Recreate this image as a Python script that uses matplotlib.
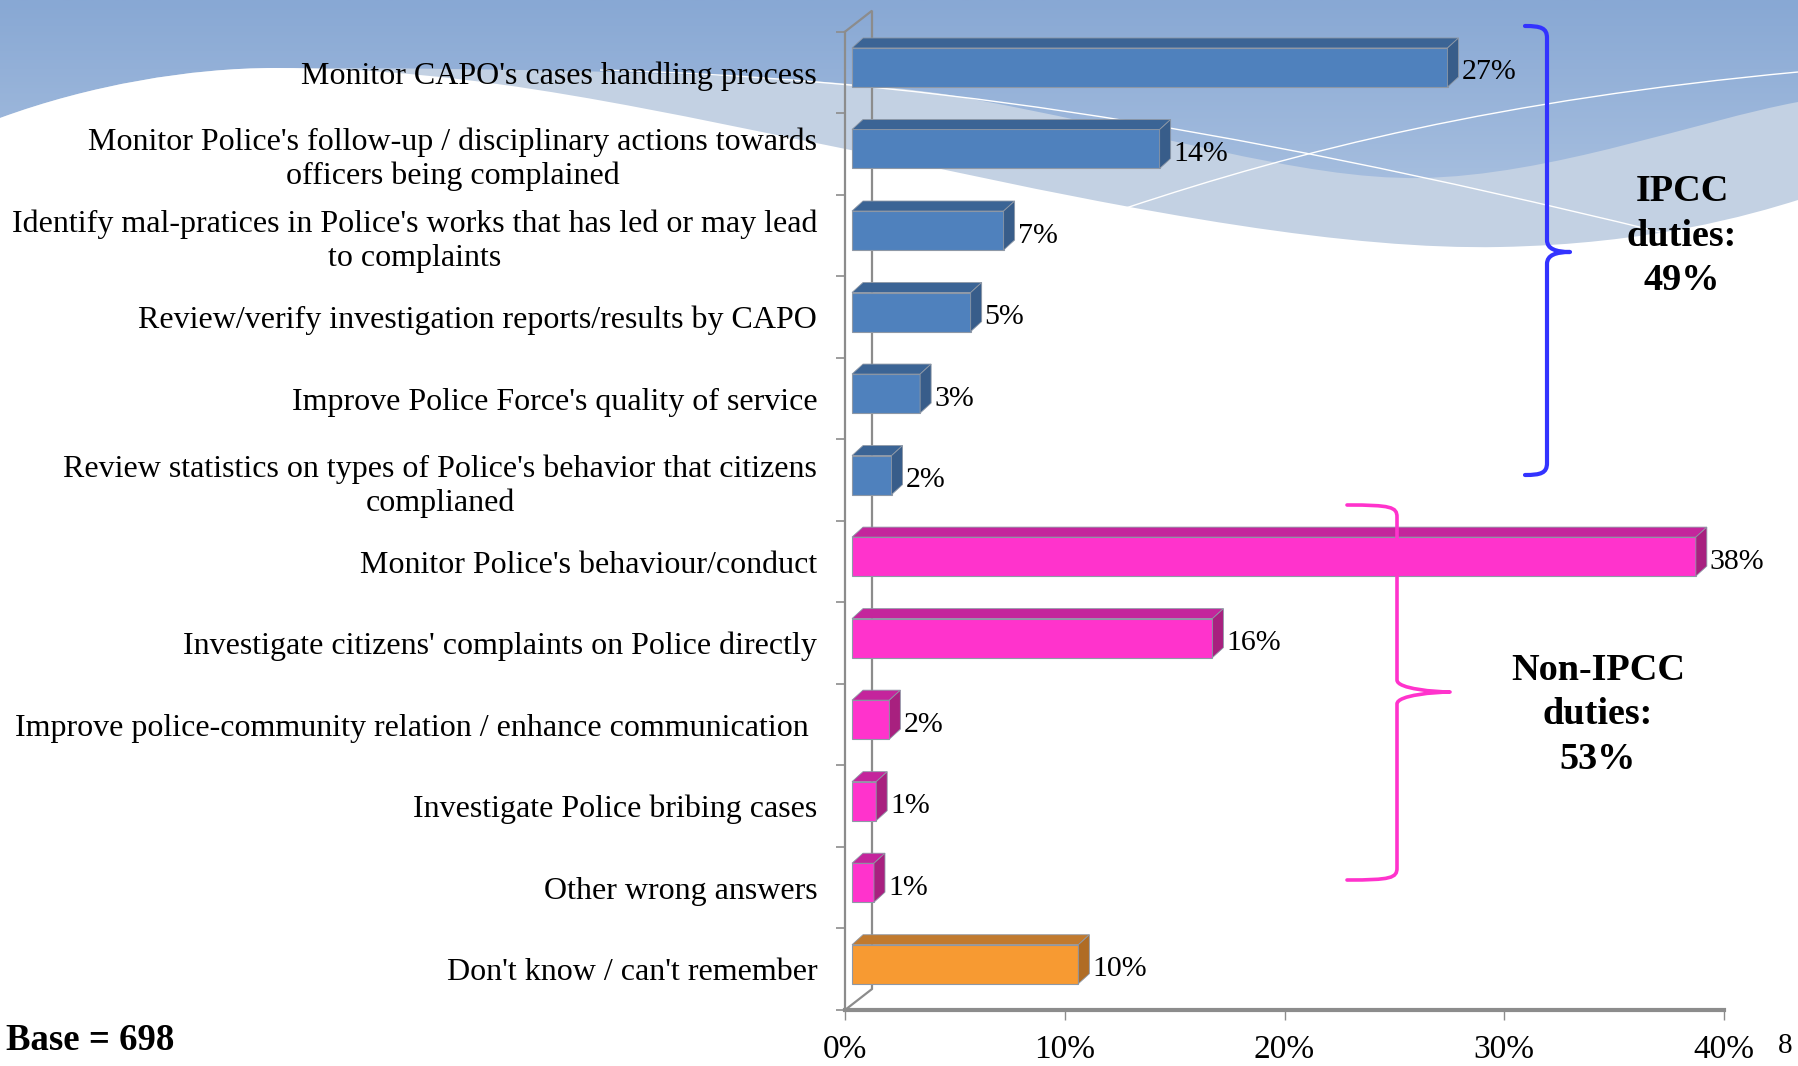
import matplotlib
matplotlib.use("Agg")
import matplotlib.pyplot as plt
import matplotlib.transforms as mtransforms
from matplotlib.patches import Polygon, PathPatch
from matplotlib.path import Path
import numpy as np

# chart data
categories = [
    "Monitor CAPO's cases handling process",
    "Monitor Police's follow-up / disciplinary actions towards\nofficers being complained",
    "Identify mal-pratices in Police's works that has led or may lead\nto complaints",
    "Review/verify investigation reports/results by CAPO",
    "Improve Police Force's quality of service",
    "Review statistics on types of Police's behavior that citizens\ncomplianed",
    "Monitor Police's behaviour/conduct",
    "Investigate citizens' complaints on Police directly",
    "Improve police-community relation / enhance communication ",
    "Investigate Police bribing cases",
    "Other wrong answers",
    "Don't know / can't remember",
]
values = [27.1, 14.0, 6.9, 5.4, 3.1, 1.8, 38.4, 16.4, 1.7, 1.1, 1.0, 10.3]
value_labels = ["27%", "14%", "7%", "5%", "3%", "2%", "38%", "16%", "2%", "1%", "1%", "10%"]
groups = ["ipcc"] * 6 + ["non"] * 5 + ["dk"]
x_ticks = [0, 10, 20, 30, 40]
x_tick_labels = ["0%", "10%", "20%", "30%", "40%"]

# front / top / side shades for each group
face_cols = {"ipcc": "#4F81BD", "non": "#FF33CC", "dk": "#F79A32"}
top_cols = {"ipcc": "#3B6495", "non": "#C4259C", "dk": "#C17A2E"}
side_cols = {"ipcc": "#385D8A", "non": "#A8207F", "dk": "#B06C24"}

W, H, DPI = 1798, 1066, 100
plt.rcParams["font.family"] = ["Liberation Serif", "DejaVu Serif"]
fig = plt.figure(figsize=(W / DPI, H / DPI), dpi=DPI)

# ---- slide background (pixel coords) ----
bg = fig.add_axes([0, 0, 1, 1], zorder=-10)
bg.set_xlim(0, W)
bg.set_ylim(H, 0)
bg.axis("off")

top_c = np.array(matplotlib.colors.to_rgb("#88A8D4"))
bot_c = np.array(matplotlib.colors.to_rgb("#B2C7E3"))
t = np.clip(np.linspace(0, H, 400) / 260.0, 0, 1)[:, None]
grad = top_c + (bot_c - top_c) * t
bg.imshow(np.repeat(grad[:, None, :], 2, axis=1), extent=(0, W, H, 0), aspect="auto", zorder=0)

band = Path(
    [(0, 118), (90, 85), (190, 68), (275, 68), (500, 68), (800, 72), (950, 95),
     (1150, 130), (1300, 180), (1420, 178), (1550, 176), (1700, 120), (1798, 102),
     (1798, H), (0, H), (0, 118)],
    [Path.MOVETO] + [Path.CURVE4] * 12 + [Path.LINETO] * 3,
)
bg.add_patch(PathPatch(band, facecolor="#C3D1E3", edgecolor="none", zorder=1))
white = Path(
    [(0, 118), (90, 85), (190, 68), (275, 68), (480, 68), (650, 110), (900, 160),
     (1150, 215), (1350, 250), (1500, 247), (1650, 244), (1750, 215), (1798, 200),
     (1798, H), (0, H), (0, 118)],
    [Path.MOVETO] + [Path.CURVE4] * 12 + [Path.LINETO] * 3,
)
bg.add_patch(PathPatch(white, facecolor="white", edgecolor="none", zorder=2))
line1 = Path([(600, 70), (900, 78), (1200, 120), (1660, 232)],
             [Path.MOVETO, Path.CURVE4, Path.CURVE4, Path.CURVE4])
line2 = Path([(1126, 208), (1300, 150), (1500, 100), (1798, 72)],
             [Path.MOVETO, Path.CURVE4, Path.CURVE4, Path.CURVE4])
for p in (line1, line2):
    bg.add_patch(PathPatch(p, facecolor="none", edgecolor="white", lw=1.0, zorder=3))

# 3-D frame: back wall and floor edges
axis_grey = "#8C8C8C"
x0, y_top, y_bot, wall_dx, wall_dy = 845, 31.7, 1010, 27, 21
bg.plot([x0, x0 + wall_dx, x0 + wall_dx, x0], [y_top, y_top - wall_dy, y_bot - wall_dy, y_bot],
        color=axis_grey, lw=1.6, zorder=4, solid_joinstyle="miter")

# ---- main chart ----
ax = fig.add_axes([x0 / W, (H - y_bot) / H, 879 / W, (y_bot - y_top) / H])
ax.patch.set_alpha(0)
ax.set_xlim(0, 40)
ax.set_ylim(11.5, -0.5)

px_x = 879 / 40.0
px_y = (y_bot - y_top) / 12.0
bar_h = 39 / px_y
dx, dy = 11 / px_x, -10 / px_y
front = mtransforms.offset_copy(ax.transData, fig=fig, x=7, y=5, units="dots")

ypos = np.arange(len(categories))
ax.barh(ypos, values, height=bar_h, color=[face_cols[g] for g in groups],
        edgecolor="#8E98A6", linewidth=0.8, transform=front, zorder=3)
for i, (v, g) in enumerate(zip(values, groups)):
    yt, yb = i - bar_h / 2, i + bar_h / 2
    ax.add_patch(Polygon([(0, yt), (v, yt), (v + dx, yt + dy), (dx, yt + dy)],
                         closed=True, facecolor=top_cols[g], edgecolor="#8E98A6",
                         lw=0.6, transform=front, zorder=3))
    ax.add_patch(Polygon([(v, yt), (v, yb), (v + dx, yb + dy), (v + dx, yt + dy)],
                         closed=True, facecolor=side_cols[g], edgecolor="#8E98A6",
                         lw=0.6, transform=front, zorder=3))

lab_tr = mtransforms.offset_copy(ax.transData, fig=fig, x=7 + 11 + 3, y=0, units="dots")
for i, (v, s) in enumerate(zip(values, value_labels)):
    ax.text(v, i, s, transform=lab_tr, ha="left", va="center", fontsize=21.5)

for side in ("top", "right"):
    ax.spines[side].set_visible(False)
ax.spines["left"].set_color(axis_grey)
ax.spines["left"].set_linewidth(1.6)
ax.spines["bottom"].set_color(axis_grey)
ax.spines["bottom"].set_linewidth(3.0)

ax.set_yticks(ypos)
ax.set_yticklabels(categories, fontsize=23)
for tl in ax.get_yticklabels():
    tl.set_multialignment("center")
ax.tick_params(axis="y", which="major", length=0, pad=20)
ax.set_yticks(np.arange(-0.5, 12, 1), minor=True)
ax.tick_params(axis="y", which="minor", length=6.5, width=1.2, color=axis_grey)

ax.set_xticks(x_ticks)
ax.set_xticklabels(x_tick_labels, fontsize=24)
ax.tick_params(axis="x", length=7, width=1.0, color=axis_grey, pad=11)

# ---- overlay: braces and notes ----
ov = fig.add_axes([0, 0, 1, 1], zorder=10)
ov.set_xlim(0, W)
ov.set_ylim(H, 0)
ov.axis("off")
ov.patch.set_alpha(0)

def brace(xe, xv, xt, yt, ym, yb, color, lw):
    verts = [(xe, yt), (xv - 6, yt), (xv, yt + 2), (xv, yt + 12),
             (xv, ym - 12),
             (xv, ym - 3), (xt - 14, ym), (xt, ym),
             (xt - 14, ym), (xv, ym + 3), (xv, ym + 12),
             (xv, yb - 12),
             (xv, yb - 2), (xv - 6, yb), (xe, yb)]
    codes = ([Path.MOVETO] + [Path.CURVE4] * 3 + [Path.LINETO] + [Path.CURVE4] * 6
             + [Path.LINETO] + [Path.CURVE4] * 3)
    ov.add_patch(PathPatch(Path(verts, codes), facecolor="none", edgecolor=color,
                           lw=lw, capstyle="round", joinstyle="round"))

brace(1525, 1547, 1570, 26, 252, 475, "#3333FF", 3.0)
brace(1347, 1397, 1450, 505, 692, 880, "#FF33CC", 2.6)

ov.text(1682, 236, "IPCC\nduties:\n49%", ha="center", va="center", fontsize=27.5,
        fontweight="bold", linespacing=1.35)
ov.text(1598, 715, "Non-IPCC\nduties:\n53%", ha="center", va="center", fontsize=27.5,
        fontweight="bold", linespacing=1.35)
ov.text(6, 1040, "Base = 698", ha="left", va="center", fontsize=26.5, fontweight="bold")
ov.text(1785, 1046, "8", ha="center", va="center", fontsize=21)

fig.savefig("out.png", dpi=DPI)
